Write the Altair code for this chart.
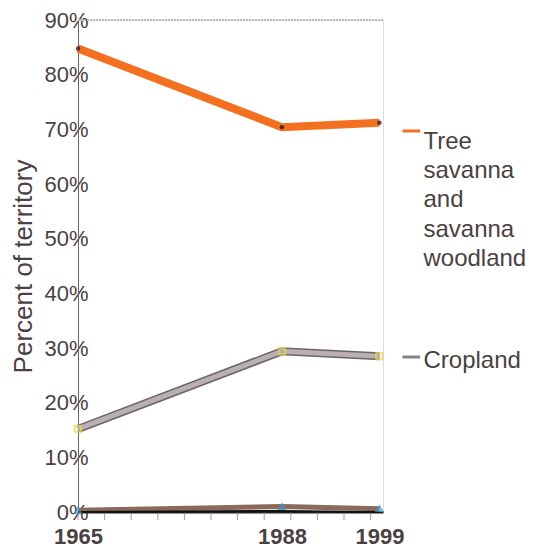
import altair as alt
import pandas as pd

years = [1965, 1988, 1999]
tree = [0.848, 0.704, 0.712]
crop = [0.152, 0.294, 0.285]
other = [0.003, 0.010, 0.006]
base = [0.0, 0.002, 0.0]

x_ticks = [1965, 1968, 1971, 1974, 1977, 1980, 1983, 1986, 1989, 1992, 1995, 1998]
x_labels = [1965, 1988, 1999]
y_ticks = [0, 0.1, 0.2, 0.3, 0.4, 0.5, 0.6, 0.7, 0.8, 0.9]

legend_labels = ["Tree\nsavanna\nand\nsavanna\nwoodland", "Cropland"]
legend_pos = [0.697, 0.2835]

FONT = "Liberation Sans"
TXT = "#4a4242"

df = pd.DataFrame({"year": years * 4,
                   "value": tree + crop + other + base,
                   "series": ["tree"] * 3 + ["crop"] * 3 + ["other"] * 3 + ["base"] * 3})

xs = alt.Scale(domain=[1965, 1999.4], nice=False, zero=False)
ys = alt.Scale(domain=[0, 0.9], nice=False)

X = alt.X("year:Q", scale=xs, axis=alt.Axis(values=x_labels, format="d", title=None,
          labelFont=FONT, labelFontSize=22, labelFontWeight="bold", labelColor=TXT,
          domainColor="#222", domainWidth=2, tickSize=0, labelPadding=14, grid=False,
          labelFlush=False))
Y = alt.Y("value:Q", scale=ys, axis=alt.Axis(values=y_ticks, format=".0%",
          title="Percent of territory", titleFont=FONT, titleFontSize=26,
          titleFontWeight="normal", titleColor=TXT, titlePadding=7,
          labelFont=FONT, labelFontSize=22, labelColor=TXT, labelFontWeight="normal",
          domainColor="#666", tickSize=0, labelPadding=-10, grid=False))

b = alt.Chart(df)

# minor x ticks
ticks_df = pd.DataFrame({"year": x_ticks, "value": [0] * len(x_ticks)})
xticks = alt.Chart(ticks_df).mark_tick(color="#777", thickness=1, size=8, yOffset=4).encode(
    x=alt.X("year:Q", scale=xs), y=alt.Y("value:Q", scale=ys))

top_df = pd.DataFrame({"year": [1965], "year2": [1999.4], "value": [0.9]})
topline = alt.Chart(top_df).mark_rule(color="#bbb", strokeDash=[2, 1], strokeWidth=2).encode(
    x=alt.X("year:Q", scale=xs), x2="year2:Q", y=alt.Y("value:Q", scale=ys))

tree_l = b.transform_filter("datum.series=='tree'").mark_line(color="#F37021", strokeWidth=8).encode(x=X, y=Y)
tree_p = b.transform_filter("datum.series=='tree'").mark_point(color="#111", filled=True, size=20).encode(x=X, y=Y)
crop_o = b.transform_filter("datum.series=='crop'").mark_line(color="#6e6464", strokeWidth=8).encode(x=X, y=Y)
crop_l = b.transform_filter("datum.series=='crop'").mark_line(color="#b9b1b1", strokeWidth=5).encode(x=X, y=Y)
crop_p = b.transform_filter("datum.series=='crop'").mark_square(color="#e8d84a", filled=False, size=40).encode(x=X, y=Y)
other_l = b.transform_filter("datum.series=='other'").mark_line(color="#8a6a5a", strokeWidth=5).encode(x=X, y=Y)
base_l = b.transform_filter("datum.series=='base'").mark_line(color="#111", strokeWidth=2).encode(x=X, y=Y)
other_p = b.transform_filter("datum.series=='other'").mark_point(shape="triangle-up", color="#3a9ad0", size=30).encode(x=X, y=Y)

# legend-like labels
lab_df = pd.DataFrame({"year": [1999, 1999], "value": legend_pos,
                       "label": legend_labels, "series": ["tree", "crop"]})
txt_kw = dict(align="left", baseline="top", dx=44, lineBreak="\n", lineHeight=29.2,
              font=FONT, fontSize=24, color=TXT)
enc = dict(x=alt.X("year:Q", scale=xs), y=alt.Y("value:Q", scale=ys), text="label:N")
lab_tree = alt.Chart(lab_df).transform_filter("datum.series=='tree'").mark_text(dy=-1, **txt_kw).encode(**enc)
lab_crop = alt.Chart(lab_df).transform_filter("datum.series=='crop'").mark_text(dy=-8, **txt_kw).encode(**enc)

mk_df = pd.DataFrame({"year": [2001.6, 2001.6], "year2": [2003.6, 2003.6],
                      "value": legend_pos, "series": ["tree", "crop"]})
mk = alt.Chart(mk_df).mark_rule(strokeWidth=3).encode(
    x=alt.X("year:Q", scale=xs), x2="year2:Q", y=alt.Y("value:Q", scale=ys),
    color=alt.Color("series:N", scale=alt.Scale(domain=["tree", "crop"], range=["#F37021", "#8a8080"]), legend=None))

chart = alt.layer(topline, xticks, crop_o, crop_l, other_l, base_l, tree_l, tree_p, crop_p, other_p,
                  mk, lab_tree, lab_crop).properties(
    width=305, height=492,
    autosize=alt.AutoSizeParams(type="none"),
    padding={"left": 70, "top": 12, "right": 145, "bottom": 40},
).configure_view(stroke="#bbb", strokeWidth=2).configure(background="white")

chart.save("out.html", embed_options={"renderer": "svg", "actions": False})
